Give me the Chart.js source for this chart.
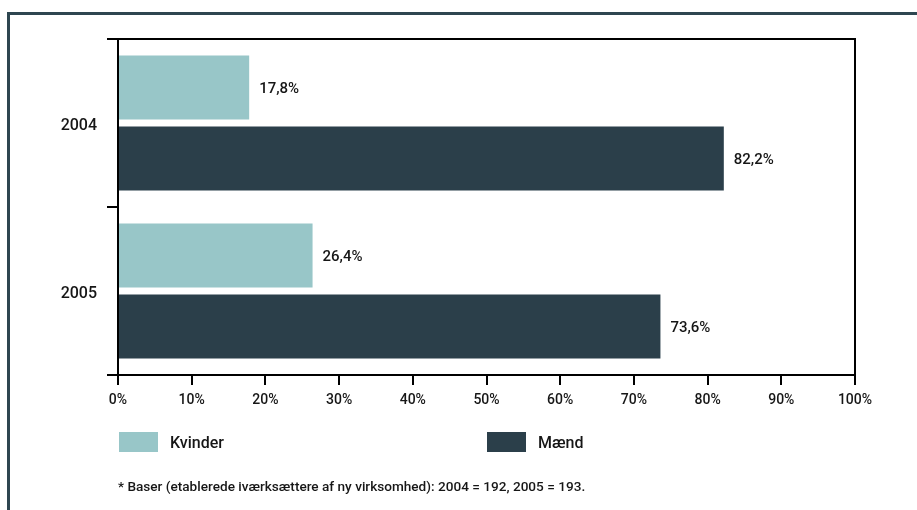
<!DOCTYPE html>
<html>
<head>
<meta charset="utf-8">
<script src="https://cdn.jsdelivr.net/npm/chart.js@4/dist/chart.umd.min.js"></script>
<style>
  body { margin: 0; background: #fff; font-family: Roboto, "DejaVu Sans", sans-serif; color: #161616; }
  #wrap { position: relative; width: 917px; height: 510px; overflow: hidden; }
  #frame { position: absolute; left: 7px; top: 12px; width: 930px; height: 520px;
           border-top: 3px solid #2e4650; border-left: 3px solid #2e4650; }
  canvas { position: absolute; left: 0; top: 0; }
  .key { position: absolute; top: 432px; width: 39px; height: 20px; }
  .keytxt { position: absolute; top: 433px; font-size: 16px; font-weight: 500; line-height: 20px; }
  #note { position: absolute; left: 118px; top: 478px; font-size: 13.6px; font-weight: 500; line-height: 16px; }
</style>
</head>
<body>
<div id="wrap">
  <div id="frame"></div>
  <canvas id="chart" width="917" height="510"></canvas>
  <div id="legend"></div>
  <div id="note">* Baser (etablerede iværksættere af ny virksomhed): 2004 = 192, 2005 = 193.</div>
</div>
<script>
// Data
const categories = ['2004', '2005'];
const seriesNames = ['Kvinder', 'Mænd'];
const kvinder = [17.8, 26.4];
const maend = [82.2, 73.6];
const colors = ['#98c6c8', '#2b3f4a'];

// Legend boxes under the chart
const legendPos = [119, 487];
const legend = document.getElementById('legend');
seriesNames.forEach((name, i) => {
    const box = document.createElement('div');
    box.className = 'key';
    box.style.left = legendPos[i] + 'px';
    box.style.background = colors[i];
    legend.appendChild(box);
    const txt = document.createElement('div');
    txt.className = 'keytxt';
    txt.style.left = (legendPos[i] + 51) + 'px';
    txt.textContent = name;
    legend.appendChild(txt);
});

// value labels right of each bar, danish decimal comma
const valueLabels = {
    id: 'valueLabels',
    afterDatasetsDraw(chart) {
        const ctx = chart.ctx;
        ctx.save();
        ctx.font = '500 15px Roboto';
        ctx.fillStyle = '#161616';
        ctx.textAlign = 'left';
        ctx.textBaseline = 'middle';
        chart.data.datasets.forEach((ds, i) => {
            chart.getDatasetMeta(i).data.forEach((bar, j) => {
                const txt = ds.data[j].toFixed(1).replace('.', ',') + '%';
                ctx.fillText(txt, bar.x + 10, bar.y + 2);
            });
        });
        ctx.restore();
    }
};

// closes the plot box on top and right
const boxLines = {
    id: 'boxLines',
    afterDraw(chart) {
        const a = chart.chartArea;
        const ctx = chart.ctx;
        ctx.save();
        ctx.strokeStyle = '#000';
        ctx.lineWidth = 2;
        ctx.beginPath();
        ctx.moveTo(a.left, a.top);
        ctx.lineTo(a.right, a.top);
        ctx.lineTo(a.right, a.bottom);
        ctx.stroke();
        ctx.restore();
    }
};

new Chart(document.getElementById('chart'), {
    type: 'bar',
    data: {
        labels: categories,
        datasets: [
            { label: seriesNames[0], data: kvinder, backgroundColor: colors[0] },
            { label: seriesNames[1], data: maend, backgroundColor: colors[1] }
        ]
    },
    options: {
        indexAxis: 'y',
        responsive: false,
        animation: false,
        categoryPercentage: 0.845,
        barPercentage: 0.9,
        layout: { padding: { top: 39, right: 62, left: 0, bottom: 0 } },
        plugins: { legend: { display: false }, tooltip: { enabled: false } },
        scales: {
            x: {
                min: 0,
                max: 100,
                ticks: {
                    stepSize: 10,
                    callback: v => v + '%',
                    color: '#161616',
                    font: { family: 'Roboto', size: 14, weight: '500' },
                    padding: 7,
                    maxRotation: 0
                },
                grid: { drawOnChartArea: false, tickLength: 10, color: '#000', lineWidth: 2 },
                border: { color: '#000', width: 2 },
                afterFit: s => { s.height = 135; }
            },
            y: {
                ticks: {
                    color: '#161616',
                    font: { family: 'Roboto', size: 16, weight: '500' },
                    padding: 10,
                    labelOffset: 3
                },
                grid: { offset: true, drawOnChartArea: false, tickLength: 11, color: '#000', lineWidth: 2 },
                border: { color: '#000', width: 2 },
                afterFit: s => { s.width = 118; }
            }
        }
    },
    plugins: [valueLabels, boxLines]
});
</script>
</body>
</html>
